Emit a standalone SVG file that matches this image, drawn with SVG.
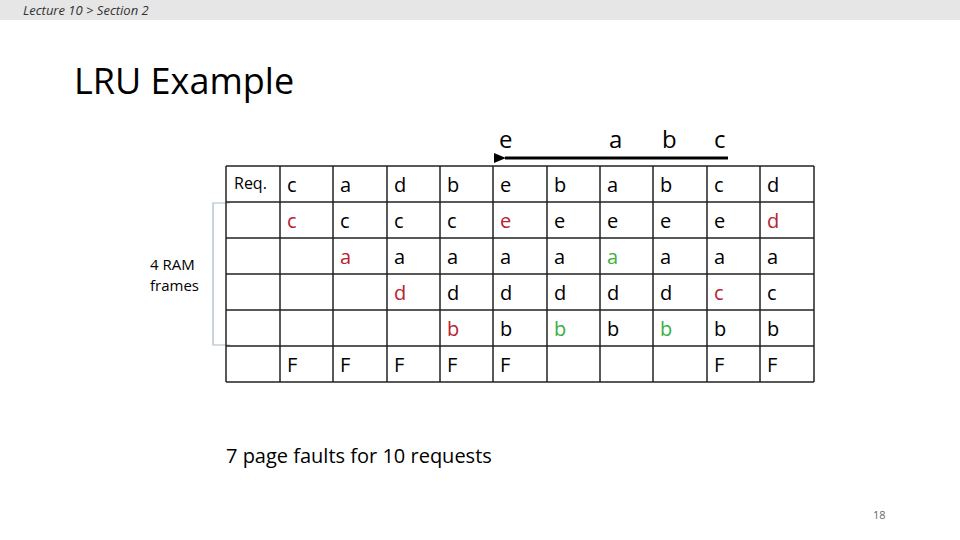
<svg xmlns="http://www.w3.org/2000/svg" width="960" height="540" viewBox="0 0 960 540">
<style>
text{font-family:"Open Sans","Liberation Sans",sans-serif;fill:#000}
.c{font-size:20px}
.big{font-size:24px}
.r{fill:#b8232f}
.g{fill:#3cb043}
.grid line{stroke:#222;stroke-width:1.5}
</style>
<defs><marker id="ah" markerWidth="12" markerHeight="10" refX="1" refY="5" orient="auto" markerUnits="userSpaceOnUse"><path d="M12,0 L0,5 L12,10 Z" fill="#000"/></marker></defs>
<rect x="0" y="0" width="960" height="20" fill="#e6e6e6"/>
<text x="23" y="15" font-size="13" font-style="italic" style="fill:#333">Lecture 10 &gt; Section 2</text>
<text x="74" y="94" font-size="36">LRU Example</text>
<g id="arrow">
<line x1="728" y1="158" x2="505" y2="158" stroke="#000" stroke-width="3" marker-end="url(#ah)"/>
<text class="big" x="499" y="148">e</text>
<text class="big" x="609" y="148">a</text>
<text class="big" x="662" y="148">b</text>
<text class="big" x="714" y="148">c</text>
</g>
<g id="bracket" fill="none" stroke="#a9b8c8" stroke-width="1.2">
<path d="M230,203 H213 V345 H230"/>
</g>
<text x="150" y="270" font-size="15">4 RAM</text>
<text x="150" y="291" font-size="15">frames</text>
<g class="grid" id="table">
<line x1="226" y1="166" x2="814" y2="166"/><line x1="226" y1="202" x2="814" y2="202"/><line x1="226" y1="238" x2="814" y2="238"/><line x1="226" y1="274" x2="814" y2="274"/><line x1="226" y1="310" x2="814" y2="310"/><line x1="226" y1="346" x2="814" y2="346"/><line x1="226" y1="382" x2="814" y2="382"/>
<line x1="226" y1="166" x2="226" y2="382"/><line x1="280" y1="166" x2="280" y2="382"/><line x1="333" y1="166" x2="333" y2="382"/><line x1="387" y1="166" x2="387" y2="382"/><line x1="440" y1="166" x2="440" y2="382"/><line x1="493" y1="166" x2="493" y2="382"/><line x1="547" y1="166" x2="547" y2="382"/><line x1="600" y1="166" x2="600" y2="382"/><line x1="653" y1="166" x2="653" y2="382"/><line x1="707" y1="166" x2="707" y2="382"/><line x1="760" y1="166" x2="760" y2="382"/><line x1="814" y1="166" x2="814" y2="382"/>
</g>
<g id="cells" class="c">
<text x="234" y="189" style="font-size:16px">Req.</text>
<text x="287" y="192">c</text><text x="340" y="192">a</text><text x="394" y="192">d</text><text x="447" y="192">b</text><text x="500" y="192">e</text><text x="554" y="192">b</text><text x="607" y="192">a</text><text x="660" y="192">b</text><text x="714" y="192">c</text><text x="767" y="192">d</text>
<text class="r" x="287" y="228">c</text><text x="340" y="228">c</text><text x="394" y="228">c</text><text x="447" y="228">c</text><text class="r" x="500" y="228">e</text><text x="554" y="228">e</text><text x="607" y="228">e</text><text x="660" y="228">e</text><text x="714" y="228">e</text><text class="r" x="767" y="228">d</text>
<text class="r" x="340" y="264">a</text><text x="394" y="264">a</text><text x="447" y="264">a</text><text x="500" y="264">a</text><text x="554" y="264">a</text><text class="g" x="607" y="264">a</text><text x="660" y="264">a</text><text x="714" y="264">a</text><text x="767" y="264">a</text>
<text class="r" x="394" y="300">d</text><text x="447" y="300">d</text><text x="500" y="300">d</text><text x="554" y="300">d</text><text x="607" y="300">d</text><text x="660" y="300">d</text><text class="r" x="714" y="300">c</text><text x="767" y="300">c</text>
<text class="r" x="447" y="336">b</text><text x="500" y="336">b</text><text class="g" x="554" y="336">b</text><text x="607" y="336">b</text><text class="g" x="660" y="336">b</text><text x="714" y="336">b</text><text x="767" y="336">b</text>
<text x="287" y="372">F</text><text x="340" y="372">F</text><text x="394" y="372">F</text><text x="447" y="372">F</text><text x="500" y="372">F</text><text x="714" y="372">F</text><text x="767" y="372">F</text>
</g>
<text x="226" y="463" font-size="20">7 page faults for 10 requests</text>
<text x="873" y="519" font-size="11" style="fill:#666">18</text>
</svg>
